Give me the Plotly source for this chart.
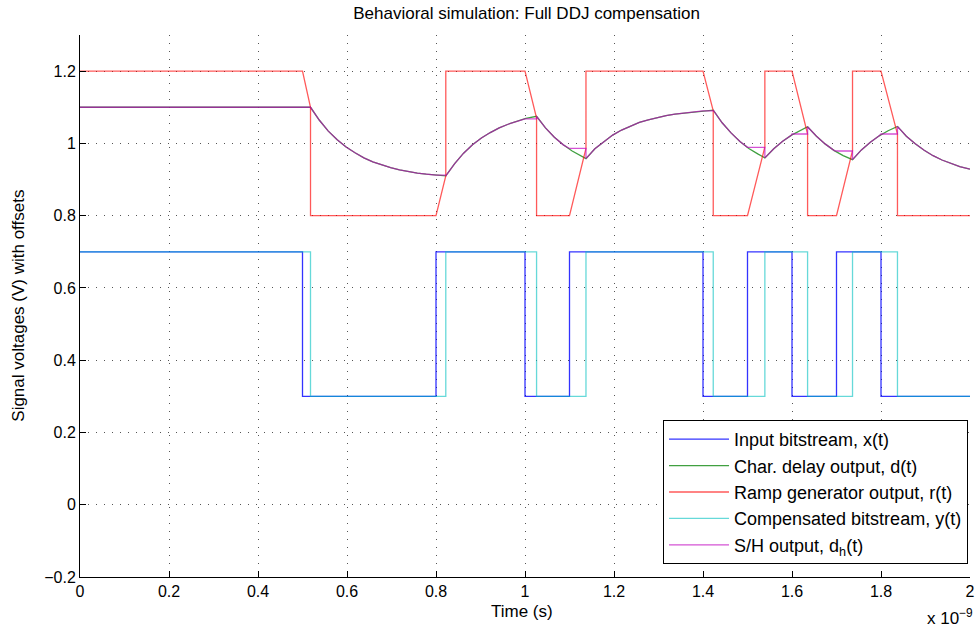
import numpy as np
import plotly.graph_objects as go

# ---- data (time in ns, displayed with x 10^-9 multiplier) ----
x_t = [0, 0.5, 0.8, 1.0, 1.1, 1.4, 1.5, 1.6, 1.7, 1.8, 2.0]
x_v = [0.7, 0.3, 0.7, 0.3, 0.7, 0.3, 0.7, 0.3, 0.7, 0.3, 0.3]

y_t = [0, 0.518, 0.822, 1.026, 1.137, 1.423, 1.539, 1.635, 1.736, 1.837, 2.0]
y_v = [0.7, 0.3, 0.7, 0.3, 0.7, 0.3, 0.7, 0.3, 0.7, 0.3, 0.3]

r_t = [0, 0.5, 0.518, 0.518, 0.8, 0.822, 0.822, 1.0, 1.026, 1.026, 1.1, 1.137, 1.137,
       1.4, 1.423, 1.423, 1.5, 1.539, 1.539, 1.6, 1.635, 1.635, 1.7, 1.736, 1.736,
       1.8, 1.837, 1.837, 2.0]
r_v = [1.2, 1.2, 1.1, 0.8, 0.8, 0.91, 1.2, 1.2, 1.07, 0.8, 0.8, 0.986, 1.2,
       1.2, 1.09, 0.8, 0.8, 0.99, 1.2, 1.2, 1.026, 0.8, 0.8, 0.98, 1.2,
       1.2, 1.026, 0.8, 0.8]

d_t = [0, 0.518,
       0.538, 0.558, 0.578, 0.598, 0.618, 0.638, 0.658, 0.678, 0.698, 0.718, 0.738,
       0.758, 0.778, 0.798, 0.822,
       0.842, 0.862, 0.882, 0.902, 0.922, 0.942, 0.962, 0.982, 1.002, 1.026,
       1.046, 1.066, 1.086, 1.106, 1.126, 1.137,
       1.157, 1.177, 1.197, 1.217, 1.237, 1.257, 1.277, 1.297, 1.317, 1.337, 1.357,
       1.377, 1.397, 1.423,
       1.443, 1.463, 1.483, 1.503, 1.523, 1.539,
       1.559, 1.579, 1.599, 1.619, 1.635,
       1.655, 1.675, 1.695, 1.715, 1.736,
       1.756, 1.776, 1.796, 1.816, 1.837,
       1.857, 1.877, 1.897, 1.917, 1.937, 1.957, 1.977, 2.0]
d_v = [1.1, 1.1,
       1.064, 1.034, 1.010, 0.990, 0.974, 0.960, 0.949, 0.940, 0.933, 0.927, 0.922,
       0.918, 0.915, 0.912, 0.910,
       0.944, 0.973, 0.996, 1.015, 1.030, 1.043, 1.053, 1.062, 1.069, 1.075,
       1.043, 1.017, 0.996, 0.979, 0.964, 0.958,
       0.985, 1.005, 1.023, 1.037, 1.048, 1.058, 1.065, 1.072, 1.077, 1.081, 1.084,
       1.087, 1.090, 1.092,
       1.057, 1.029, 1.005, 0.986, 0.971, 0.960,
       0.985, 1.006, 1.023, 1.037, 1.046,
       1.020, 0.998, 0.980, 0.966, 0.955,
       0.982, 1.003, 1.021, 1.035, 1.047,
       1.020, 0.999, 0.981, 0.966, 0.954, 0.944, 0.936, 0.929]

# S/H hold windows: start (input edge), end (compensated edge), held value
hold_start = [0.5, 0.8, 1.0, 1.1, 1.4, 1.5, 1.6, 1.7, 1.8]
hold_end = [0.518, 0.822, 1.026, 1.137, 1.423, 1.539, 1.635, 1.736, 1.837]
hold_val = [1.1, 0.912, 1.068, 0.986, 1.090, 0.989, 1.026, 0.979, 1.026]

names = ["Input bitstream, x(t)", "Char. delay output, d(t)",
         "Ramp generator output, r(t)", "Compensated bitstream, y(t)",
         "S/H output, d<sub>h</sub>(t)"]

x_ticks = [0, 0.2, 0.4, 0.6, 0.8, 1.0, 1.2, 1.4, 1.6, 1.8, 2.0]
x_ticklabels = ["0", "0.2", "0.4", "0.6", "0.8", "1", "1.2", "1.4", "1.6", "1.8", "2"]
y_ticks = [-0.2, 0, 0.2, 0.4, 0.6, 0.8, 1.0, 1.2]
y_ticklabels = ["\u22120.2", "0", "0.2", "0.4", "0.6", "0.8", "1", "1.2"]

# ---- build S/H trace from d(t) and the hold windows ----
dt = np.array(d_t)
dv = np.array(d_v)
pts = list(zip(d_t, d_v))
sh_t, sh_v = [], []
k = 0
for s, e, hv in zip(hold_start, hold_end, hold_val):
    while k < len(pts) and pts[k][0] < s:
        sh_t.append(pts[k][0]); sh_v.append(pts[k][1]); k += 1
    sh_t += [s, e]
    sh_v += [hv, hv]
    while k < len(pts) and pts[k][0] <= e:
        k += 1
    sh_t.append(e); sh_v.append(float(np.interp(e, dt, dv)))
while k < len(pts):
    sh_t.append(pts[k][0]); sh_v.append(pts[k][1]); k += 1

fig = go.Figure()
fig.add_trace(go.Scatter(x=x_t, y=x_v, mode="lines", line_shape="hv", name=names[0],
                         line=dict(color="rgba(0,0,255,0.8)", width=1.3)))
fig.add_trace(go.Scatter(x=d_t, y=d_v, mode="lines", name=names[1],
                         line=dict(color="rgba(0,128,0,0.75)", width=1.3)))
fig.add_trace(go.Scatter(x=r_t, y=r_v, mode="lines", name=names[2],
                         line=dict(color="rgba(255,0,0,0.65)", width=1.3)))
fig.add_trace(go.Scatter(x=y_t, y=y_v, mode="lines", line_shape="hv", name=names[3],
                         line=dict(color="rgba(0,191,191,0.6)", width=1.3)))
fig.add_trace(go.Scatter(x=sh_t, y=sh_v, mode="lines", name=names[4],
                         line=dict(color="rgba(191,0,191,0.68)", width=1.3)))

font_family = "Liberation Sans, Arial, Helvetica, sans-serif"
grid_style = dict(showgrid=True, gridcolor="#555", griddash="1px,7px", gridwidth=1)
fig.update_layout(
    width=977, height=631,
    margin=dict(l=80, r=7, t=35, b=54, autoexpand=False),
    paper_bgcolor="white", plot_bgcolor="white",
    font=dict(family=font_family, size=16, color="black"),
    title=dict(text="Behavioral simulation: Full DDJ compensation", x=0.539, xanchor="center",
               y=0.979, yanchor="middle", font=dict(size=17, family=font_family)),
    showlegend=True,
    legend=dict(x=0.9978, y=0.024, xanchor="right", yanchor="bottom",
                bgcolor="white", bordercolor="black", borderwidth=1,
                font=dict(size=18, family=font_family), tracegroupgap=0,
                itemwidth=60),
    xaxis=dict(range=[0, 2], tickvals=x_ticks, ticktext=x_ticklabels,
               showline=True, linecolor="black", linewidth=1, mirror=False,
               ticks="inside", ticklen=6, tickcolor="black", automargin=False,
               ticklabeloverflow="allow", zeroline=False,
               tickfont=dict(size=16), **grid_style),
    yaxis=dict(range=[-0.2, 1.3], tickvals=y_ticks, ticktext=y_ticklabels,
               showline=True, linecolor="black", linewidth=1, mirror=False,
               ticks="inside", ticklen=6, tickcolor="black", automargin=False,
               ticklabeloverflow="allow", zeroline=False,
               tickfont=dict(size=16), **grid_style),
)
fig.add_annotation(text="Time (s)", xref="paper", yref="paper",
                   x=0.497, y=-0.063, xanchor="center", yanchor="middle", showarrow=False,
                   font=dict(size=17, family=font_family))
fig.add_annotation(text="Signal voltages (V) with offsets", xref="paper", yref="paper",
                   x=-0.07, y=0.5, xanchor="center", yanchor="middle", showarrow=False,
                   textangle=-90, font=dict(size=17, family=font_family))
fig.add_annotation(text="x 10<sup>\u22129</sup>", xref="paper", yref="paper",
                   x=1.006, y=-0.049, xanchor="right", yanchor="top", showarrow=False,
                   font=dict(size=17, family=font_family))

fig.write_html("out.html", config={"displayModeBar": False},
               post_script="document.body.style.margin='0px';")
